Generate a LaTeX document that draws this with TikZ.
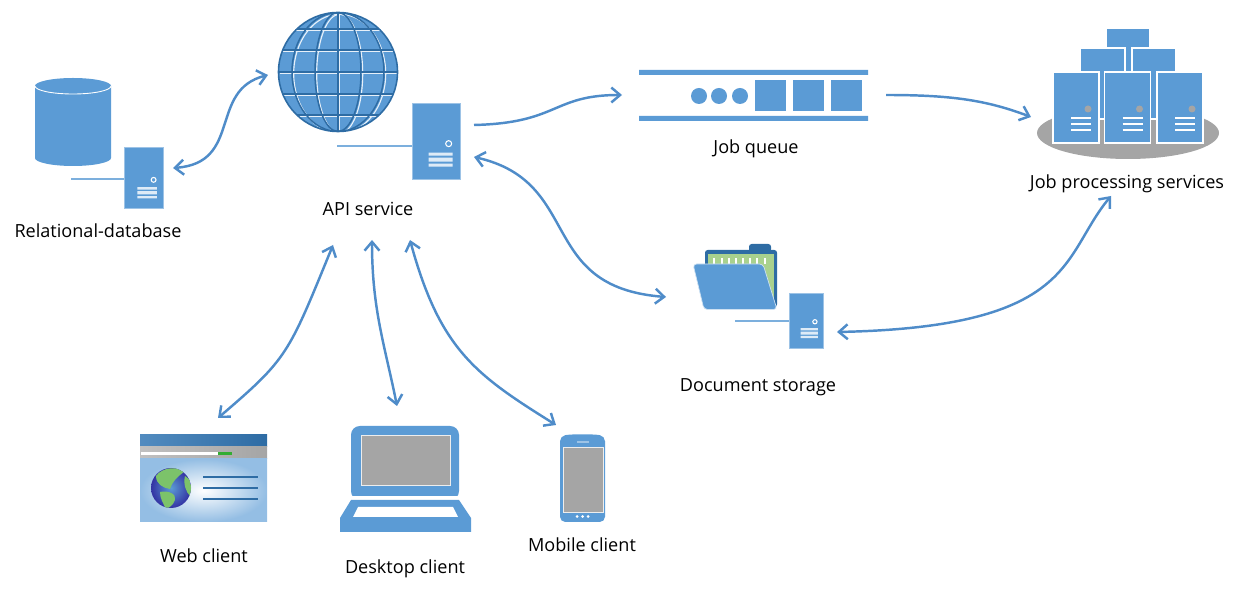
\documentclass[tikz,border=0pt]{standalone}
\usepackage{fontspec}
\setmainfont{Open Sans}
\usetikzlibrary{arrows.meta}
\definecolor{iconblue}{HTML}{5B9BD5}
\definecolor{deepblue}{HTML}{2E6CA4}
\definecolor{linkblue}{HTML}{4F8CC9}
\definecolor{paleblue}{HTML}{9DC3E6}
\definecolor{slab}{HTML}{A5A5A5}
\definecolor{leaf}{HTML}{A9D18E}
\definecolor{land}{HTML}{7CC36A}
\tikzset{
  flow/.style={draw=linkblue, line width=1.4pt, -{Straight Barb[length=5pt,width=8.5pt,line width=1.4pt]}},
  twoway/.style={flow, {Straight Barb[length=5pt,width=8.5pt,line width=1.4pt]}-{Straight Barb[length=5pt,width=8.5pt,line width=1.4pt]}},
  tag/.style={inner sep=0pt, font=\fontsize{10.3}{12}\selectfont},
  towerbox/.style={fill=iconblue, draw=paleblue, line width=.4pt, inner sep=0pt},
  cable/.style={draw=iconblue!80, line width=.6pt},
  towerfront/.pic={
    \draw[white, line width=.6pt] (37,41) circle [radius=3];
    \fill[white!80!iconblue] (17,50) rectangle (41,53) (17,55) rectangle (41,59) (17,61) rectangle (41,64);
  },
  rack/.pic={
    \draw[fill=iconblue, draw=white, line width=.6pt] (0,0) rectangle (46,71);
    \fill[slab] (35,37) circle [radius=3.5];
    \foreach \r in {46,52,58}
      \draw[white, line width=.7pt] (18,\r) -- (38,\r);
  }
}
\begin{document}
\begin{tikzpicture}[x=.02cm, y=-.02cm]
  \useasboundingbox (0,0) rectangle (1240,590);

  % database
  \node[tag] (dblabel) at (98,231) {Relational-database};
  \fill[iconblue] (35,86) -- (35,158) arc [start angle=180, end angle=360, x radius=38, y radius=-8]
    -- (111,86) arc [start angle=0, end angle=180, x radius=38, y radius=-8] -- cycle;
  \draw[white, line width=.5pt] (35,86) arc [start angle=180, end angle=360, x radius=38, y radius=-8];
  \node[towerbox, minimum width=.78cm, minimum height=1.22cm] (dbtower) at (143.5,177.5) {};
  \pic[scale=.81] at (dbtower.north west) {towerfront};
  \coordinate (dbwire) at (71,179);
  \draw[cable] (dbwire) -- (dbtower.west |- dbwire);

  % globe and its tower
  \node[tag] (apilabel) at (368,209) {API service};
  \node[circle, fill=iconblue, minimum size=2.38cm, inner sep=0pt] (globe) at (338,72) {};
  \begin{scope}[shift={(338,72)}]
    \begin{scope}
      \clip (0,0) circle [radius=59.5];
      \begin{scope}[shift={(1.7,1.7)}, white!85!iconblue, line width=.65pt]
        \draw (0,-60) -- (0,60);
        \draw (0,0) ellipse [x radius=23, y radius=59.5];
        \draw (0,0) ellipse [x radius=46, y radius=59.5];
        \foreach \d in {-43,-22,0,22,43}
          \draw (-60,\d) -- (60,\d);
      \end{scope}
      \begin{scope}[deepblue, line width=.85pt]
        \draw (0,-60) -- (0,60);
        \draw (0,0) ellipse [x radius=23, y radius=59.5];
        \draw (0,0) ellipse [x radius=46, y radius=59.5];
        \foreach \d in {-43,-22,0,22,43}
          \draw (-60,\d) -- (60,\d);
      \end{scope}
    \end{scope}
    \draw[deepblue, line width=.9pt] (0,0) circle [radius=59.5];
  \end{scope}
  \node[towerbox, minimum width=.96cm, minimum height=1.52cm] (apitower) at (436,141) {};
  \pic at (apitower.north west) {towerfront};
  \coordinate (apiwire) at (337,146);
  \draw[cable] (apiwire) -- (apitower.west |- apiwire);

  % queue
  \node[tag] (queuelabel) at (756,149) {Job queue};
  \fill[iconblue] (639,70) rectangle (868,75) (639,116) rectangle (868,121);
  \foreach \cx in {699,719,740}
    \fill[iconblue] (\cx,96) circle [radius=8];
  \foreach \bx in {755,793,831}
    \fill[iconblue] (\bx,80) rectangle +(31,31);

  % job processing
  \node[tag] (joblabel) at (1127,184) {Job processing services};
  \fill[slab] (1128,133) ellipse [x radius=91, y radius=26];
  \draw[fill=iconblue, draw=white, line width=.6pt] (1106,28) rectangle (1150,100);
  \draw[fill=iconblue, draw=white, line width=.6pt] (1080,48) rectangle (1125,119);
  \draw[fill=iconblue, draw=white, line width=.6pt] (1132,48) rectangle (1176,119);
  \pic at (1053,72) {rack};
  \pic at (1104.5,72) {rack};
  \pic at (1157,72) {rack};

  % folder
  \node[tag] (doclabel) at (758,387) {Document storage};
  \fill[deepblue, rounded corners=1.5pt] (749,252) -- (749,244) -- (771,244) -- (771,252) -- cycle;
  \fill[deepblue, rounded corners=1.5pt] (705,250) rectangle (777,307);
  \fill[leaf] (708,254) rectangle (774,305);
  \foreach \tx in {714,722,729,736,743,750,757,765}
    \draw[white, line width=.6pt] (\tx,258) -- (\tx,264);
  \draw[fill=iconblue, draw=white!70!iconblue, line width=.4pt, rounded corners=2pt]
    (693,264) -- (763,264) -- (777,309.5) -- (704,309.5) -- cycle;
  \node[towerbox, minimum width=.68cm, minimum height=1.1cm] (doctower) at (806,320.5) {};
  \pic[scale=.71] at (doctower.north west) {towerfront};
  \coordinate (docwire) at (735,321);
  \draw[cable] (docwire) -- (doctower.west |- docwire);

  % web client
  \node[tag] (weblabel) at (204,556) {Web client};
  \shade[left color=iconblue!90!black, right color=deepblue] (140,435) rectangle (267,447);
  \shade[left color=slab!70, right color=slab] (140,447) rectangle (267,459);
  \fill[white] (141,452) rectangle (218,455);
  \fill[green!60!black!80] (218,452) rectangle (232,455);
  \shade[inner color=white, outer color=iconblue!65] (140,459) rectangle (267,522);
  \shade[inner color=iconblue, outer color=blue!55!black!80] (171,488) circle [radius=20];
  \begin{scope}
    \clip (171,488) circle [radius=20];
    \fill[land] (156,476) .. controls (162,467) and (178,466) .. (184,472)
      .. controls (177,477) and (172,482) .. (170,489) .. controls (163,488) and (156,484) .. (156,476) -- cycle;
    \fill[land] (160,492) .. controls (168,490) and (177,494) .. (175,500)
      .. controls (173,506) and (168,508) .. (166,509) .. controls (163,503) and (160,498) .. (160,492) -- cycle;
    \fill[land] (185,476) .. controls (191,478) and (193,488) .. (190,496) .. controls (186,492) and (183,484) .. (185,476) -- cycle;
  \end{scope}
  \foreach \ly in {477,488,499}
    \draw[deepblue, line width=.8pt] (203,\ly) -- (258,\ly);

  % laptop
  \node[tag] (desklabel) at (405,568.5) {Desktop client};
  \fill[iconblue, rounded corners=5pt] (351,500) -- (351,426) -- (459,426) -- (459,500) -- cycle;
  \fill[white] (345,496) rectangle (465,500);
  \draw[fill=slab, draw=white!80!slab, line width=.5pt] (361,435) rectangle (450,485);
  \fill[iconblue] (351,500) -- (459,500) -- (471,518) -- (471,532) -- (340,532) -- (340,518) -- cycle;
  \fill[white] (358,507) -- (453,507) -- (458,517) -- (353,517) -- cycle;

  % phone
  \node[tag] (mobilelabel) at (582,545) {Mobile client};
  \fill[iconblue, rounded corners=3pt] (560,436) .. controls (572,434) and (593,434) .. (605,436)
    -- (605,522) -- (560,522) -- cycle;
  \draw[fill=slab, draw=white!80!slab, line width=.5pt] (563,447) rectangle (603,512);
  \draw[paleblue, line width=1pt] (577,442) -- (589,442);
  \foreach \px in {577,582.5,588}
    \fill[white] (\px,516.5) circle [radius=1.5];

  % ends of the links
  \coordinate (dbport) at (173,168);
  \coordinate (globeport) at (268,75);
  \coordinate (apiout) at (474,125);
  \coordinate (queuein) at (622,95);
  \coordinate (queueout) at (886,95);
  \coordinate (jobin) at (1031,117);
  \coordinate (apidoc) at (474,157);
  \coordinate (docin) at (666,297);
  \coordinate (docjob) at (837,332);
  \coordinate (jobdoc) at (1111,196);
  \coordinate (apiweb) at (333,245);
  \coordinate (webport) at (218,418);
  \coordinate (apidesk) at (372,240);
  \coordinate (deskport) at (397,406);
  \coordinate (apimobile) at (410,240);
  \coordinate (mobileport) at (556,425);

  \draw[twoway] (dbport) .. controls +(70,-5) and +(-60,15) .. (globeport);
  \draw[flow] (apiout) .. controls +(85,-2) and +(-70,0) .. (queuein);
  \draw[flow] (queueout) .. controls +(65,0) and +(-45,-17) .. (jobin);
  \draw[twoway] (apidoc) .. controls +(110,25) and +(-130,-10) .. (docin);
  \draw[twoway] (docjob) .. controls +(240,-5) and +(-50,60) .. (jobdoc);
  \draw[twoway] (apiweb) .. controls +(-45,110) and +(70,-60) .. (webport);
  \draw[twoway] (apidesk) .. controls +(0,70) and +(-12,-60) .. (deskport);
  \draw[twoway] (apimobile) .. controls +(30,110) and +(-80,-50) .. (mobileport);
\end{tikzpicture}
\end{document}
